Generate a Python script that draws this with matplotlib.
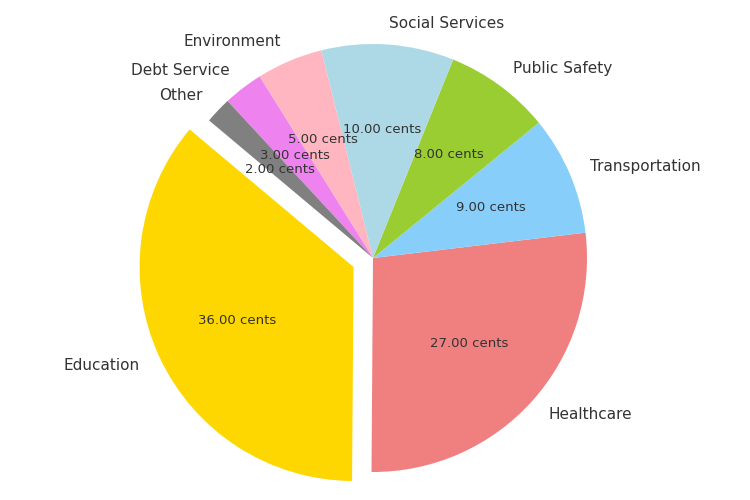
import matplotlib.pyplot as plt

labels = ['Education', 'Healthcare', 'Transportation', 'Public Safety',
          'Social Services', 'Environment', 'Debt Service', 'Other']
cents = [36, 27, 9, 8, 10, 5, 3, 2]
colors = ['gold', 'lightcoral', 'lightskyblue', 'yellowgreen',
          'lightblue', 'lightpink', 'violet', 'grey']
explode = [0.1, 0, 0, 0, 0, 0, 0, 0]

fig = plt.figure(figsize=(7.5, 5), dpi=100)
ax = fig.add_axes([0, 0, 1, 1])

wedges, texts, autotexts = ax.pie(cents, labels=labels, colors=colors, explode=explode,
                                  startangle=140, autopct='%.2f cents',
                                  textprops={'color': '#333333'})
for t in texts:
    t.set_fontsize(11)
for t in autotexts:
    t.set_fontsize(9.5)

# put the pie centre and radius where the reference has them
ax.set_xlim(-373 / 214, 377 / 214)
ax.set_ylim(-242 / 214, 258 / 214)
ax.set_aspect('equal')
ax.axis('off')

plt.savefig('out.png')
